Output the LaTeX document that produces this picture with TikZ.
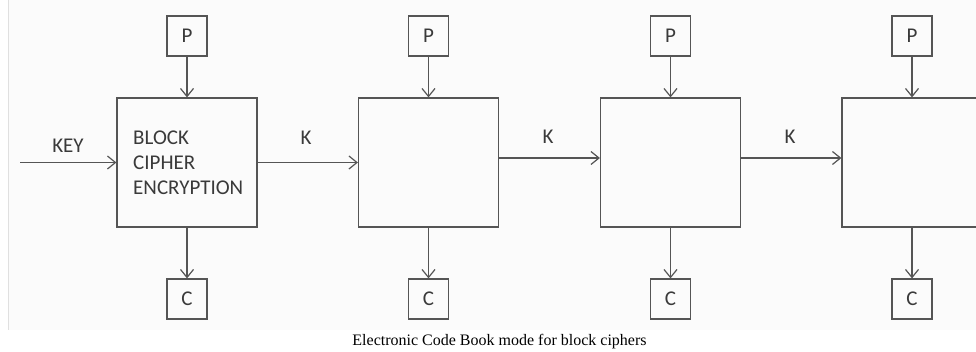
\documentclass[tikz,border=0pt]{standalone}
\usepackage{fontspec}
\setmainfont{Liberation Serif}
\newfontfamily\labfont{Carlito}
\usetikzlibrary{arrows.meta}
\definecolor{ln}{HTML}{555555}
\definecolor{tx}{HTML}{3A3A3A}
\definecolor{bgc}{HTML}{FBFBFB}
\begin{document}
\begin{tikzpicture}[x=1pt,y=-1pt,
 blk/.style={draw=ln,line width=1.2pt,minimum width=140pt,minimum height=129pt,inner sep=0pt},
 io/.style={draw=ln,line width=1.2pt,minimum width=40pt,minimum height=40pt,inner sep=0pt,font=\labfont\fontsize{21}{25}\selectfont,text=tx},
 arr/.style={draw=ln,line width=1.2pt,-{Straight Barb[length=8pt,width=13pt,line width=1.2pt]}},
 lbl/.style={font=\labfont\fontsize{21}{25}\selectfont,text=tx,inner sep=0pt}]
\useasboundingbox (0,0) rectangle (976,351);
\clip (0,0) rectangle (976,351);
\fill[bgc] (8,0) rectangle (976,330);
\draw[black!12,line width=1pt] (8,0) -- (8,330);
% blocks
\node[blk] (b1) at (187,162.5) {};
\node[blk] (b2) at (428.5,162.5) {};
\node[blk] (b3) at (670.5,162.5) {};
\node[blk] (b4) at (912,162.5) {};
\node[lbl,anchor=west,align=left] (t1) at (133,163) {BLOCK\\CIPHER\\ENCRYPTION};
% P and C boxes
\foreach \i/\x in {1/187,2/428.5,3/670.5,4/912}{
  \node[io] (p\i) at (\x,36) {P};
  \node[io] (c\i) at (\x,299) {C};
  \draw[arr] (p\i) -- (b\i);
  \draw[arr] (b\i) -- (c\i);
}
% key input
\coordinate (keyin) at (20,162.5);
\draw[arr] (keyin) -- (b1.west);
\node[lbl] (key) at (68,146) {KEY};
% K connectors
\draw[arr] (b1.east) -- (b2.west);
\draw[arr] ([yshift=4.5pt]b2.east) -- ([yshift=4.5pt]b3.west);
\draw[arr] ([yshift=4.5pt]b3.east) -- ([yshift=4.5pt]b4.west);
\node[lbl] (k1) at (306,138) {K};
\node[lbl] (k2) at (548,137) {K};
\node[lbl] (k3) at (790,137) {K};
% caption
\node[anchor=base,inner sep=0pt,font=\fontsize{16}{19}\selectfont] (cap) at (499.5,345) {Electronic Code Book mode for block ciphers};
\end{tikzpicture}
\end{document}
